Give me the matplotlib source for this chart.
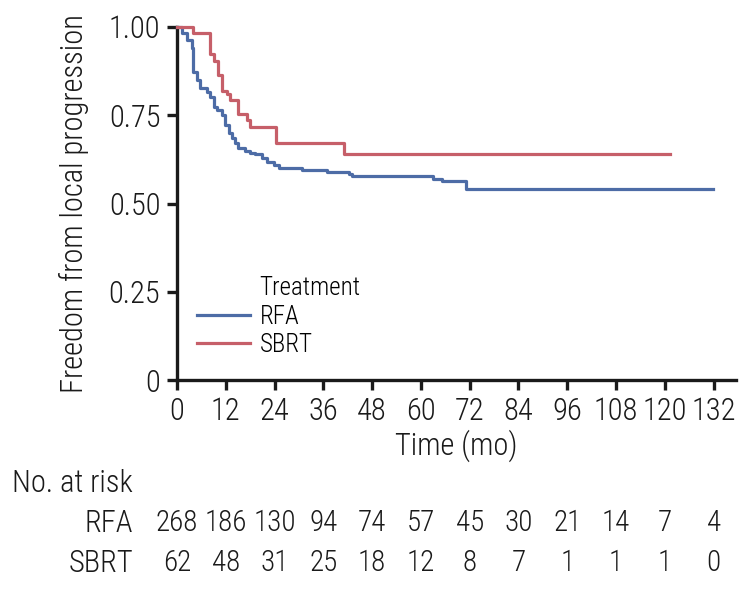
import matplotlib
matplotlib.use('Agg')
import matplotlib.pyplot as plt
from matplotlib import font_manager
from matplotlib.lines import Line2D
from matplotlib.transforms import blended_transform_factory


def narrow_font():
    ents = font_manager.fontManager.ttflist
    def regular(e):
        return e.style == 'normal' and str(e.weight) in ('400', 'normal', 'regular', 'book')
    for want in ['Liberation Sans Narrow', 'Roboto Condensed', 'Open Sans Condensed',
                 'Noto Sans Condensed']:
        for e in ents:
            if e.name == want and regular(e):
                return e.name, e.stretch
    for e in ents:
        if e.name in ('Noto Sans', 'Roboto', 'Open Sans') and e.stretch == 'condensed' and regular(e):
            return e.name, e.stretch
    return 'DejaVu Sans', 'condensed'


fam, stretch = narrow_font()
plt.rcParams['font.family'] = fam
plt.rcParams['font.stretch'] = stretch
plt.rcParams['font.weight'] = 'light'
plt.rcParams['axes.labelweight'] = 'light'

# Kaplan-Meier steps
rfa_t = [0, 1.2, 2.4, 3.6, 4.0, 4.8, 5.7, 7.3, 8.1, 9.0, 9.8, 11.0, 11.8, 12.7,
         13.5, 14.3, 15.1, 16.8, 18.0, 19.2, 20.9, 22.1, 23.8, 25.0, 30.8, 37.0,
         42.3, 43.1, 63.0, 65.1, 71.1, 131.9]
rfa_s = [1.0, 0.982, 0.963, 0.94, 0.873, 0.85, 0.827, 0.817, 0.803, 0.774, 0.765,
         0.751, 0.722, 0.699, 0.685, 0.671, 0.656, 0.649, 0.644, 0.64, 0.629, 0.618,
         0.609, 0.600, 0.595, 0.590, 0.583, 0.578, 0.570, 0.563, 0.542, 0.542]

sbrt_t = [0, 4.0, 8.1, 9.0, 10.2, 11.0, 12.2, 13.1, 15.1, 17.2, 18.0, 24.4, 41.2, 121.2]
sbrt_s = [1.0, 0.984, 0.924, 0.904, 0.864, 0.82, 0.81, 0.792, 0.753, 0.737, 0.716,
          0.67, 0.639, 0.639]

risk_times = [0, 12, 24, 36, 48, 60, 72, 84, 96, 108, 120, 132]
risk_rfa = [268, 186, 130, 94, 74, 57, 45, 30, 21, 14, 7, 4]
risk_sbrt = [62, 48, 31, 25, 18, 12, 8, 7, 1, 1, 1, 0]

blue = '#4d6ca6'
red = '#c65f69'
ink = '#1a1a1a'

fig = plt.figure(figsize=(7.49, 5.9), dpi=100)
ax = fig.add_axes([177/749, 1 - 380/590, (736-177)/749, (380-27)/590])

ax.step(rfa_t, rfa_s, where='post', color=blue, lw=2.3, clip_on=False, zorder=3)
ax.step(sbrt_t, sbrt_s, where='post', color=red, lw=2.3, clip_on=False, zorder=3)

ax.set_xlim(0, 137.5)
ax.set_ylim(0, 1)
ax.set_xticks(risk_times)
ax.set_yticks([0, 0.25, 0.5, 0.75, 1.0])
ax.set_yticklabels(['0', '0.25', '0.50', '0.75', '1.00'])
for s in ['top', 'right']:
    ax.spines[s].set_visible(False)
for s in ['left', 'bottom']:
    ax.spines[s].set_linewidth(2.4)
    ax.spines[s].set_color(ink)
ax.tick_params(direction='out', length=7, width=2.4, color=ink,
               labelsize=22, pad=5, labelcolor=ink)
ax.set_xlabel('Time (mo)', fontsize=22, color=ink, labelpad=3)
ax.set_ylabel('Freedom from local progression', fontsize=22, color=ink)
ax.yaxis.set_label_coords(-0.157, 0.5)

# legend, with the title as a blank first row so it lines up with labels
handles = [Line2D([], [], color='none'),
           Line2D([], [], color=blue, lw=2.3),
           Line2D([], [], color=red, lw=2.3)]
ax.legend(handles, ['Treatment', 'RFA', 'SBRT'], loc='upper left',
          bbox_to_anchor=(197/749, 1 - 276/590), bbox_transform=fig.transFigure,
          frameon=False, fontsize=18, handlelength=2.1, handletextpad=0.4,
          labelspacing=0.18, borderpad=0, borderaxespad=0)

# number at risk table
tr = blended_transform_factory(ax.transData, fig.transFigure)
fig.text(12/749, 1 - 483/590, 'No. at risk', fontsize=22, va='center', color=ink)
fig.text(133/749, 1 - 523/590, 'RFA', fontsize=22, va='center', ha='right', color=ink)
fig.text(133/749, 1 - 563/590, 'SBRT', fontsize=22, va='center', ha='right', color=ink)
for t, n1, n2 in zip(risk_times, risk_rfa, risk_sbrt):
    ax.text(t, 1 - 523/590, str(n1), transform=tr, ha='center', va='center',
            fontsize=21, color=ink)
    ax.text(t, 1 - 563/590, str(n2), transform=tr, ha='center', va='center',
            fontsize=21, color=ink)

fig.savefig('out.png', dpi=100)
